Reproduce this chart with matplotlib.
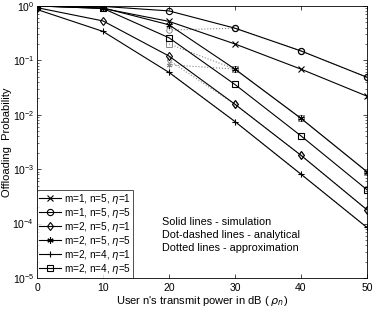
import matplotlib
matplotlib.use("Agg")
import matplotlib.pyplot as plt
from matplotlib.ticker import LogLocator, NullFormatter

plt.rcParams['font.family'] = ['Liberation Sans', 'DejaVu Sans']
plt.rcParams['mathtext.fontset'] = 'dejavusans'

# transmit power (dB)
rho = [0, 10, 20, 30, 40, 50]

# simulation curves
p_m1_n5_e1 = [1.0, 0.90, 0.52, 0.20, 0.069, 0.022]
p_m1_n5_e5 = [1.0, 0.98, 0.81, 0.39, 0.149, 0.049]
p_m2_n5_e1 = [0.93, 0.53, 0.12, 0.0156, 0.0018, 1.8e-4]
p_m2_n5_e5 = [1.0, 0.92, 0.45, 0.069, 0.0086, 9.0e-4]
p_m2_n4_e1 = [0.86, 0.34, 0.060, 0.0075, 8.1e-4, 8.5e-5]
p_m2_n4_e5 = [1.0, 0.90, 0.26, 0.036, 0.0041, 4.2e-4]

# approximation curves (from 20 dB)
rho_apx = [20, 30, 40, 50]
apx_m1_n5_e5 = [0.36, 0.39, 0.149, 0.049]
apx_m2_n4_e5 = [0.20, 0.069, 0.0086, 9.0e-4]
apx_m2_n5_e1 = [0.10, 0.0156, 0.0018, 1.8e-4]
apx_m2_n5_e5 = [0.083, 0.069, 0.0086, 9.0e-4]
apx_m2_n4_e1 = [0.061, 0.0075, 8.1e-4, 8.5e-5]

labels = ['m=1, n=5, $\\eta$=1', 'm=1, n=5, $\\eta$=5', 'm=2, n=5, $\\eta$=1',
          'm=2, n=5, $\\eta$=5', 'm=2, n=4, $\\eta$=1', 'm=2, n=4, $\\eta$=5']
series = [p_m1_n5_e1, p_m1_n5_e5, p_m2_n5_e1, p_m2_n5_e5, p_m2_n4_e1, p_m2_n4_e5]
ast = (6, 2, 0)
markers = ['x', 'o', 'd', ast, '+', 's']

fig = plt.figure(figsize=(3.74, 3.12), dpi=100)
ax = fig.add_axes([0.099, 0.109, 0.882, 0.872])

# dotted approximation lines (gray)
gray = '#888888'
for vals, mk in [(apx_m1_n5_e5, 'o'), (apx_m2_n4_e5, 's'), (apx_m2_n5_e1, 'd'),
                 (apx_m2_n5_e5, ast), (apx_m2_n4_e1, '+')]:
    ax.semilogy(rho_apx, vals, ':', color=gray, lw=0.8, marker=mk, ms=4,
                mfc='none', mec=gray, mew=0.7)

for vals, mk, lab in zip(series, markers, labels):
    ax.semilogy(rho, vals, '-', color='black', lw=0.8, marker=mk, ms=4.5,
                mfc='none', mec='black', mew=0.8, label=lab)

ax.set_xlim(0, 50)
ax.set_ylim(1e-5, 1)
ax.set_xticks([0, 10, 20, 30, 40, 50])
ax.yaxis.set_major_locator(LogLocator(base=10, numticks=10))
ax.yaxis.set_minor_locator(LogLocator(base=10, subs=range(2, 10), numticks=10))
ax.yaxis.set_minor_formatter(NullFormatter())
ax.tick_params(which='both', direction='in', top=True, right=True, labelsize=7.5)
ax.tick_params(axis='y', pad=2)
ax.tick_params(which='major', length=3, width=0.5)
ax.tick_params(which='minor', length=1.6, width=0.4)
for sp in ax.spines.values():
    sp.set_linewidth(0.6)

ax.set_xlabel("User n's transmit power in dB ( $\\rho_n$)", fontsize=8, labelpad=1)
ax.set_ylabel('Offloading  Probability', fontsize=8, labelpad=0)

leg = ax.legend(loc='lower left', fontsize=7.2, frameon=True, fancybox=False,
                edgecolor='black', borderaxespad=0, handlelength=2.2,
                handletextpad=0.3, labelspacing=0.0, borderpad=0.2)
leg.get_frame().set_linewidth(0.6)

ax.text(0.38, 0.225, 'Solid lines - simulation\nDot-dashed lines - analytical\n'
        'Dotted lines - approximation', transform=ax.transAxes, fontsize=7.8,
        va='top', ha='left', linespacing=1.4)

fig.savefig('out.png', dpi=100)
